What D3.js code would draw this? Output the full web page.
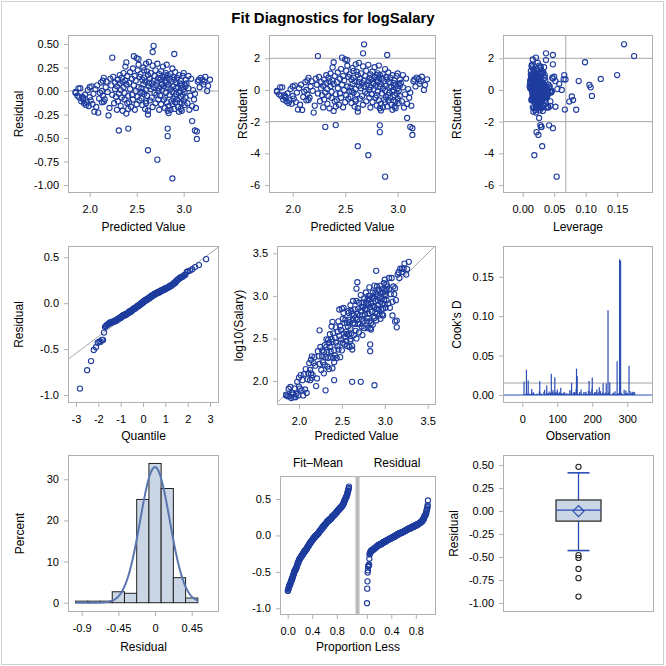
<!DOCTYPE html>
<html><head><meta charset="utf-8">
<script src="https://cdn.jsdelivr.net/npm/d3@7"></script>
<style>body{margin:0;background:#fff}</style>
</head><body><svg id="c" width="666" height="666"></svg>
<script>
// ---------------- DATA ----------------
// observation numbers of the 33 first rows (notable points); other rows take the remaining observation numbers in order
const notableObs = [281,278,245,271,305,155,12,83,200,157,93,5,191,17,50,250,70,141,110,27,220,64,231,120,132,300,180,210,44,265,100,315,240];
// observations without salary (not in the fit)
const missingObs = [1,15,19,23,31,37,40,45,57,60,63,72,78,82,89,96,101,106,111,117,124,130,133,137,145,150,160,167,172,177,183,188,195,203,208,214,222,227,234,239,242,252,255,261,266,269,276,284,288,292,297,302,306,309,311,314,318,320,322];

const predicted = [
 2.88,2.68,2.24,2.62,2.39,2.72,3.14,2.90,3.14,2.83,2.67,2.83,3.12,2.31,3.05,2.95,2.05,2.41,3.09,3.20,2.47,2.50,2.52,2.00,1.88,3.26,3.22,2.15,1.93,2.98,2.80,3.16,2.60,
 1.85,1.85,1.87,1.89,1.90,1.91,1.92,1.93,1.94,1.95,1.96,1.97,1.98,1.99,2.00,
 2.01,2.02,2.03,2.04,2.06,2.07,2.08,2.09,2.10,2.11,2.12,2.13,2.13,2.14,2.14,
 2.15,2.16,2.17,2.18,2.19,2.20,2.21,2.22,2.23,2.24,2.25,2.26,2.27,2.27,2.28,2.29,
 2.29,2.30,2.30,2.31,2.32,2.32,2.33,2.33,2.34,2.34,2.35,2.35,2.36,2.36,2.37,2.37,2.38,2.38,2.39,2.39,2.40,2.40,2.41,2.41,
 2.42,2.42,2.43,2.43,2.44,2.45,2.45,2.46,2.46,2.47,2.48,2.48,2.49,2.49,2.50,2.51,2.51,2.52,2.52,2.53,2.53,2.54,
 2.54,2.55,2.55,2.56,2.56,2.57,2.57,2.58,2.58,2.59,2.59,2.60,2.60,2.61,2.61,2.62,2.62,2.62,2.63,2.63,2.63,2.60,2.58,2.56,
 2.64,2.64,2.65,2.65,2.66,2.66,2.67,2.67,2.68,2.68,2.69,2.69,2.70,2.70,2.71,2.71,2.72,2.72,2.73,2.73,2.73,2.74,2.74,2.74,
 2.75,2.75,2.76,2.76,2.77,2.77,2.78,2.78,2.79,2.79,2.80,2.80,2.81,2.81,2.81,2.82,2.82,2.82,2.83,2.83,2.83,2.80,2.77,
 2.84,2.84,2.84,2.85,2.85,2.86,2.86,2.86,2.87,2.87,2.88,2.88,2.88,2.89,2.89,2.89,2.90,2.90,2.91,2.91,2.91,2.92,2.92,2.92,
 2.93,2.93,2.94,2.94,2.95,2.95,2.96,2.96,2.96,2.97,2.97,2.98,2.98,2.99,2.99,3.00,3.00,3.00,3.01,3.01,3.01,3.02,3.02,3.02,2.97,
 3.03,3.04,3.05,3.06,3.07,3.08,3.09,3.10,3.11,3.12,
 3.13,3.15,3.17,3.18,3.21,3.23,3.25,3.28];

const residual = [
 -0.93,0.48,0.355,-0.63,0.305,-0.73,-0.43,0.394,-0.51,-0.40,0.415,-0.48,-0.42,-0.42,0.16,-0.22,-0.22,-0.40,-0.32,0.12,0.37,0.35,0.34,-0.066,0.029,0.055,0.099,-0.113,-0.073,-0.13,0.167,0.118,0.29,
 -0.02,-0.01,-0.05,-0.07,0.03,-0.11,-0.06,-0.09,-0.13,-0.04,-0.15,-0.12,0.01,-0.16,0.04,
 -0.10,0.05,-0.14,-0.03,0.02,-0.17,0.06,-0.23,-0.08,-0.02,0.09,-0.12,0.00,0.11,-0.05,
 0.14,-0.09,0.04,0.10,-0.01,-0.26,-0.18,0.13,0.06,-0.04,0.15,-0.13,0.02,0.09,-0.06,-0.20,
 0.05,0.12,-0.11,-0.03,0.17,0.08,-0.16,0.01,0.14,-0.07,-0.21,0.10,0.04,0.19,-0.09,-0.02,0.11,0.26,-0.24,0.07,-0.13,0.16,-0.05,-0.19,
 0.09,-0.12,0.20,0.02,-0.17,0.13,-0.04,0.24,-0.09,0.06,0.16,-0.20,0.00,0.11,-0.14,0.22,-0.06,0.28,0.04,-0.10,0.15,-0.02,
 0.18,-0.08,0.03,0.12,-0.15,0.07,0.25,-0.03,0.14,-0.19,0.10,0.01,-0.11,0.21,-0.05,-0.25,0.17,-0.21,0.05,0.09,0.31,-0.13,0.22,-0.01,
 0.13,-0.10,0.02,0.19,-0.07,0.08,0.27,-0.17,0.11,0.04,-0.02,0.16,-0.13,0.22,0.06,-0.04,0.10,0.29,-0.09,0.14,0.00,0.18,-0.20,0.03,
 0.12,-0.05,0.21,-0.14,0.08,0.01,0.26,0.15,-0.09,0.05,0.11,-0.18,0.19,-0.02,0.09,-0.12,0.28,0.14,0.04,-0.21,0.17,-0.06,0.07,
 -0.235,0.07,-0.16,0.13,-0.04,-0.20,0.18,0.02,-0.11,0.10,-0.01,0.24,-0.14,0.15,0.05,-0.08,-0.19,0.12,-0.06,0.20,-0.12,0.03,0.09,-0.03,
 0.14,-0.09,0.04,-0.17,0.17,-0.02,0.08,-0.12,0.00,0.11,-0.06,-0.21,0.06,0.16,-0.04,-0.10,0.02,0.19,-0.15,0.07,-0.01,0.12,-0.07,0.05,-0.19,
 0.08,-0.13,0.03,-0.20,-0.05,0.13,-0.16,0.01,-0.09,-0.03,
 -0.18,0.10,0.04,0.14,0.07,0.15,0.00,0.12];

const leverage = [
 0.054,0.161,0.177,0.031,0.099,0.0185,0.048,0.048,0.025,0.042,0.037,0.022,0.029,0.030,0.150,0.085,0.067,0.028,0.026,0.124,0.021,0.016,0.037,0.110,0.108,0.106,0.089,0.080,0.078,0.074,0.066,0.068,0.048,
 .045,.044,.038,.035,.034,.031,.033,.029,.027,.030,.026,.024,.025,.022,.028,
 .021,.026,.019,.032,.017,.023,.028,.020,.036,.015,.025,.018,.030,.022,.027,
 .024,.017,.029,.013,.038,.021,.026,.016,.033,.020,.014,.027,.042,.019,.023,.031,
 .018,.025,.014,.031,.022,.012,.027,.019,.035,.016,.029,.021,.011,.024,.037,.018,.026,.015,.032,.020,.044,.017,.023,.028,
 .022,.015,.030,.019,.026,.013,.034,.021,.017,.028,.024,.016,.039,.020,.025,.018,.031,.014,.023,.027,.019,.046,
 .020,.027,.016,.033,.023,.012,.029,.018,.025,.040,.021,.014,.031,.019,.026,.017,.035,.022,.015,.028,.024,.030,.013,.037,
 .019,.026,.014,.031,.022,.017,.028,.024,.012,.035,.020,.016,.029,.023,.018,.041,.025,.015,.032,.021,.027,.013,.038,.019,
 .023,.016,.030,.019,.027,.013,.034,.021,.025,.017,.036,.022,.028,.015,.031,.020,.026,.018,.043,.024,.014,.033,.029,
 .027,.018,.024,.015,.032,.021,.028,.012,.036,.019,.025,.017,.030,.022,.014,.039,.023,.026,.016,.033,.020,.029,.018,.045,
 .021,.028,.016,.033,.024,.019,.030,.014,.037,.022,.026,.018,.041,.020,.027,.015,.034,.023,.029,.017,.046,.025,.031,.019,.052,
 .029,.036,.024,.041,.031,.048,.027,.055,.033,.039,
 .044,.052,.038,.047,.058,.050,.062,.065];

const nParams = 9;           // model parameters
const histEdges = [-0.975,-0.825,-0.675,-0.525,-0.375,-0.225,-0.075,0.075,0.225,0.375,0.525];

// tick values
const tPred = [2.0,2.5,3.0];
const tRes2 = [0.5,0.25,0,-0.25,-0.5,-0.75,-1.0];
const tRstud = [2,0,-2,-4,-6];
const tLev = [0,0.05,0.10,0.15];
const tQuant = [-3,-2,-1,0,1,2,3];
const tRes1 = [0.5,0,-0.5,-1.0];
const tObsPred = [2.0,2.5,3.0,3.5];
const tCook = [0,0.05,0.10,0.15];
const tObs = [0,100,200,300];
const tHistX = [-0.9,-0.45,0,0.45];
const tHistXLab = ["-0.9","-0.45","0","0.45"];
const tPct = [0,10,20,30];
const tProp = [0,0.4,0.8];

// ---------------- DERIVED ----------------
const n = predicted.length;
const otherObs = d3.range(1,323).filter(k=>!missingObs.includes(k)&&!notableObs.includes(k));
const obsNo = notableObs.concat(otherObs);
const sse = d3.sum(residual, e=>e*e);
const s = Math.sqrt(sse/(n-nParams));
const rows = predicted.map((pr,i)=>{
  const e=residual[i], h=leverage[i];
  const ri=e/(s*Math.sqrt(1-h));
  const rs=ri*Math.sqrt((n-nParams-1)/(n-nParams-ri*ri));
  return {obs:obsNo[i], pred:pr, res:e, lev:h, rstud:rs, cook:ri*ri*h/(nParams*(1-h)), y:pr+e};
});
const meanPred = d3.mean(predicted);
const meanRes = d3.mean(residual);
const sdRes = d3.deviation(residual);

function qnorm(p){const a=[-3.969683028665376e+01,2.209460984245205e+02,-2.759285104469687e+02,1.383577518672690e+02,-3.066479806614716e+01,2.506628277459239e+00],b=[-5.447609879822406e+01,1.615858368580409e+02,-1.556989798598866e+02,6.680131188771972e+01,-1.328068155288572e+01],c=[-7.784894002430293e-03,-3.223964580411365e-01,-2.400758277161838e+00,-2.549732539343734e+00,4.374664141464968e+00,2.938163982698783e+00],d=[7.784695709041462e-03,3.224671290700398e-01,2.445134137142996e+00,3.754408661907416e+00];const pl=0.02425;let q,r;if(p<pl){q=Math.sqrt(-2*Math.log(p));return(((((c[0]*q+c[1])*q+c[2])*q+c[3])*q+c[4])*q+c[5])/((((d[0]*q+d[1])*q+d[2])*q+d[3])*q+1);}if(p>1-pl){q=Math.sqrt(-2*Math.log(1-p));return-(((((c[0]*q+c[1])*q+c[2])*q+c[3])*q+c[4])*q+c[5])/((((d[0]*q+d[1])*q+d[2])*q+d[3])*q+1);}q=p-0.5;r=q*q;return(((((a[0]*r+a[1])*r+a[2])*r+a[3])*r+a[4])*r+a[5])*q/(((((b[0]*r+b[1])*r+b[2])*r+b[3])*r+b[4])*r+1);}

// ---------------- DRAWING ----------------
const FONT='"Liberation Sans", Arial, Helvetica, sans-serif';
const BLUE='#1f3d9e', FRAME='#b0b0b0', REF='#a6a6a6';
const svg=d3.select('#c');
svg.append('rect').attr('x',1.5).attr('y',1.5).attr('width',662).attr('height',663).attr('fill','#fff').attr('stroke','#cfcfcf');
svg.append('text').attr('x',333).attr('y',23).attr('text-anchor','middle').attr('font-family',FONT).attr('font-size',15).attr('font-weight','bold').text('Fit Diagnostics for logSalary');
const fmt = d3.formatLocale({decimal:'.',thousands:',',grouping:[3],currency:['',''],minus:'-'}).format;
let clipN=0;
function panel(o){
  const x=d3.scaleLinear().domain(o.xd).range([o.x0,o.x1]);
  const y=d3.scaleLinear().domain(o.yd).range([o.y1,o.y0]);
  const g=svg.append('g');
  const id='cl'+(clipN++);
  g.append('clipPath').attr('id',id).append('rect').attr('x',o.x0).attr('y',o.y0).attr('width',o.x1-o.x0).attr('height',o.y1-o.y0);
  const plot=g.append('g').attr('clip-path',`url(#${id})`);
  const styleAx=ax=>{ax.select('.domain').remove();ax.selectAll('line').attr('stroke',FRAME);ax.selectAll('text').attr('font-size',11).attr('font-family',FONT).attr('fill','#000');};
  if(o.xt){const a=d3.axisBottom(x).tickValues(o.xt).tickSize(4).tickPadding(o.xpad??8);a.tickFormat(o.xl?((d,i)=>o.xl[i]):fmt(o.xf));g.append('g').attr('transform',`translate(0,${o.y1})`).call(a).call(styleAx);}
  if(o.yt){const a=d3.axisLeft(y).tickValues(o.yt).tickSize(4).tickPadding(o.ypad??5).tickFormat(fmt(o.yf));g.append('g').attr('transform',`translate(${o.x0},0)`).call(a).call(styleAx);}
  if(o.xlab) g.append('text').attr('x',(o.x0+o.x1)/2).attr('y',o.xly).attr('text-anchor','middle').attr('font-family',FONT).attr('font-size',12).text(o.xlab);
  if(o.ylab) g.append('text').attr('transform',`translate(${o.ylx},${(o.y0+o.y1)/2}) rotate(-90)`).attr('text-anchor','middle').attr('font-family',FONT).attr('font-size',12).text(o.ylab);
  g.append('rect').attr('x',o.x0+0.5).attr('y',o.y0+0.5).attr('width',o.x1-o.x0-1).attr('height',o.y1-o.y0-1).attr('fill','none').attr('stroke',FRAME);
  return {x,y,plot};
}
function hline(P,v,col){P.plot.append('line').attr('x1',P.x.range()[0]).attr('x2',P.x.range()[1]).attr('y1',P.y(v)).attr('y2',P.y(v)).attr('stroke',col||REF);}
function vline(P,v,col){P.plot.append('line').attr('y1',P.y.range()[0]).attr('y2',P.y.range()[1]).attr('x1',P.x(v)).attr('x2',P.x(v)).attr('stroke',col||REF);}
function dots(P,data,fx,fy,col){P.plot.append('g').selectAll('circle').data(data).join('circle').attr('cx',d=>P.x(fx(d))).attr('cy',d=>P.y(fy(d))).attr('r',2.6).attr('fill','none').attr('stroke',col||BLUE).attr('stroke-width',1.1);}

// Row 1
const P1=panel({x0:68,x1:219,y0:35,y1:193,xd:[1.769,3.376],yd:[-1.085,0.596],xt:tPred,xf:'.1f',yt:tRes2,yf:'.2f',xlab:'Predicted Value',xly:231,ylab:'Residual',ylx:23});
hline(P1,0); dots(P1,rows,d=>d.pred,d=>d.res);
const P2=panel({x0:269,x1:436,y0:35,y1:193,xd:[1.774,3.365],yd:[-6.505,3.47],xt:tPred,xf:'.1f',yt:tRstud,yf:'d',xlab:'Predicted Value',xly:231,ylab:'RStudent',ylx:247});
hline(P2,2);hline(P2,-2); dots(P2,rows,d=>d.pred,d=>d.rstud);
const P3=panel({x0:503,x1:653,y0:35,y1:193,xd:[-0.0313,0.207],yd:[-6.505,3.47],xt:tLev,xf:'.2f',yt:tRstud,yf:'d',xlab:'Leverage',xly:231,ylab:'RStudent',ylx:461});
hline(P3,2);hline(P3,-2);vline(P3,2*nParams/n); dots(P3,rows,d=>d.lev,d=>d.rstud);

// Row 2
const P4=panel({x0:68,x1:219,y0:246,y1:403,xd:[-3.358,3.40],yd:[-1.087,0.623],xt:tQuant,xf:'d',yt:tRes1,yf:'.1f',xlab:'Quantile',xly:440,ylab:'Residual',ylx:23});
P4.plot.append('line').attr('x1',P4.x(-4)).attr('x2',P4.x(4)).attr('y1',P4.y(meanRes-4*sdRes)).attr('y2',P4.y(meanRes+4*sdRes)).attr('stroke',REF);
const sortedRes=residual.slice().sort(d3.ascending);
dots(P4,sortedRes.map((v,i)=>[qnorm((i+1-0.375)/(n+0.25)),v]),d=>d[0],d=>d[1]);
const P5=panel({x0:277,x1:436,y0:246,y1:405,xd:[1.744,3.597],yd:[1.718,3.586],xt:tObsPred,xf:'.1f',yt:tObsPred,yf:'.1f',xlab:'Predicted Value',xly:440,ylab:'log10(Salary)',ylx:243});
P5.plot.append('line').attr('x1',P5.x(1)).attr('x2',P5.x(4)).attr('y1',P5.y(1)).attr('y2',P5.y(4)).attr('stroke',REF);
dots(P5,rows,d=>d.pred,d=>d.y);
const P6=panel({x0:503,x1:653,y0:246,y1:403,xd:[-55,373.5],yd:[-0.0101,0.189],xt:tObs,xf:'d',yt:tCook,yf:'.2f',xlab:'Observation',xly:440,ylab:"Cook's D",ylx:461});
hline(P6,4/n);
P6.plot.append('g').selectAll('line').data(rows).join('line').attr('x1',d=>P6.x(d.obs)).attr('x2',d=>P6.x(d.obs)).attr('y1',P6.y(0)).attr('y2',d=>P6.y(d.cook)).attr('stroke','#2a4db5').attr('stroke-width',1.2);
hline(P6,0,'#2a4db5');

// Row 3
const P7=panel({x0:68,x1:219,y0:455,y1:612,xd:[-1.068,0.785],yd:[-2.26,35.9],xt:tHistX,xl:tHistXLab,yt:tPct,yf:'d',xlab:'Residual',xly:651,ylab:'Percent',ylx:24});
const bins=d3.pairs(histEdges).map(([a,b])=>({a,b,pct:100*residual.filter(v=>v>=a&&v<b).length/n}));
P7.plot.append('g').selectAll('rect').data(bins).join('rect').attr('x',d=>P7.x(d.a)).attr('width',d=>P7.x(d.b)-P7.x(d.a)).attr('y',d=>P7.y(d.pct)).attr('height',d=>P7.y(0)-P7.y(d.pct)).attr('fill','#cad5e5').attr('stroke','#222').attr('stroke-width',1);
const bw=histEdges[1]-histEdges[0];
const curve=d3.range(histEdges[0],histEdges[histEdges.length-1]+1e-9,0.005).map(v=>[v,100*bw*Math.exp(-0.5*((v-meanRes)/sdRes)**2)/(sdRes*Math.sqrt(2*Math.PI))]);
P7.plot.append('path').attr('d',d3.line().x(d=>P7.x(d[0])).y(d=>P7.y(d[1]))(curve)).attr('fill','none').attr('stroke','#5a76b0').attr('stroke-width',2);

const P8a=panel({x0:280,x1:356.5,y0:476,y1:615,xd:[-0.125,1.12],yd:[-1.092,0.816],xt:tProp,xf:'.1f',yt:tRes1,yf:'.1f'});
const P8b=panel({x0:358.5,x1:436,y0:476,y1:615,xd:[-0.137,1.13],yd:[-1.092,0.816],xt:tProp,xf:'.1f'});
svg.append('rect').attr('x',356.5).attr('y',476).attr('width',2).attr('height',139).attr('fill',FRAME);
svg.append('text').attr('x',318).attr('y',467).attr('text-anchor','middle').attr('font-family',FONT).attr('font-size',12).text('Fit\u2013Mean');
svg.append('text').attr('x',397).attr('y',467).attr('text-anchor','middle').attr('font-family',FONT).attr('font-size',12).text('Residual');
svg.append('text').attr('x',358).attr('y',651).attr('text-anchor','middle').attr('font-family',FONT).attr('font-size',12).text('Proportion Less');
const fitSorted=predicted.map(v=>v-meanPred).sort(d3.ascending);
dots(P8a,fitSorted.map((v,i)=>[(i+0.5)/n,v]),d=>d[0],d=>d[1]);
dots(P8b,sortedRes.map((v,i)=>[(i+0.5)/n,v]),d=>d[0],d=>d[1]);

const P9=panel({x0:503,x1:654,y0:455,y1:612,xd:[0,1],yd:[-1.098,0.609],yt:tRes2,yf:'.2f',ylab:'Residual',ylx:458});
const q1=d3.quantile(sortedRes,0.25),q2=d3.quantile(sortedRes,0.5),q3=d3.quantile(sortedRes,0.75),iqr=q3-q1;
const lo=d3.min(sortedRes.filter(v=>v>=q1-1.5*iqr)),hi=d3.max(sortedRes.filter(v=>v<=q3+1.5*iqr));
const cx=P9.x(0.5),Y=P9.y,bh=22.5,ch=11;
const G9=P9.plot.append('g');
G9.append('line').attr('x1',cx).attr('x2',cx).attr('y1',Y(q3)).attr('y2',Y(hi)).attr('stroke','#2a4db5').attr('stroke-width',1.3);
G9.append('line').attr('x1',cx).attr('x2',cx).attr('y1',Y(q1)).attr('y2',Y(lo)).attr('stroke','#2a4db5').attr('stroke-width',1.3);
G9.append('line').attr('x1',cx-ch).attr('x2',cx+ch).attr('y1',Y(hi)).attr('y2',Y(hi)).attr('stroke','#2a4db5').attr('stroke-width',1.6);
G9.append('line').attr('x1',cx-ch).attr('x2',cx+ch).attr('y1',Y(lo)).attr('y2',Y(lo)).attr('stroke','#2a4db5').attr('stroke-width',1.6);
G9.append('rect').attr('x',cx-bh).attr('width',2*bh).attr('y',Y(q3)).attr('height',Y(q1)-Y(q3)).attr('fill','#cad5e5').attr('stroke','#222').attr('stroke-width',1.2);
G9.append('line').attr('x1',cx-bh).attr('x2',cx+bh).attr('y1',Y(q2)).attr('y2',Y(q2)).attr('stroke','#2a4db5').attr('stroke-width',1.3);
const my=Y(meanRes),dm=5.5;
G9.append('path').attr('d',`M${cx-dm},${my}L${cx},${my-dm}L${cx+dm},${my}L${cx},${my+dm}Z`).attr('fill','none').attr('stroke','#2a4db5').attr('stroke-width',1.3);
G9.selectAll('circle').data(sortedRes.filter(v=>v<lo||v>hi)).join('circle').attr('cx',cx).attr('cy',d=>Y(d)).attr('r',2.6).attr('fill','none').attr('stroke','#222').attr('stroke-width',1.1);
</script></body></html>
